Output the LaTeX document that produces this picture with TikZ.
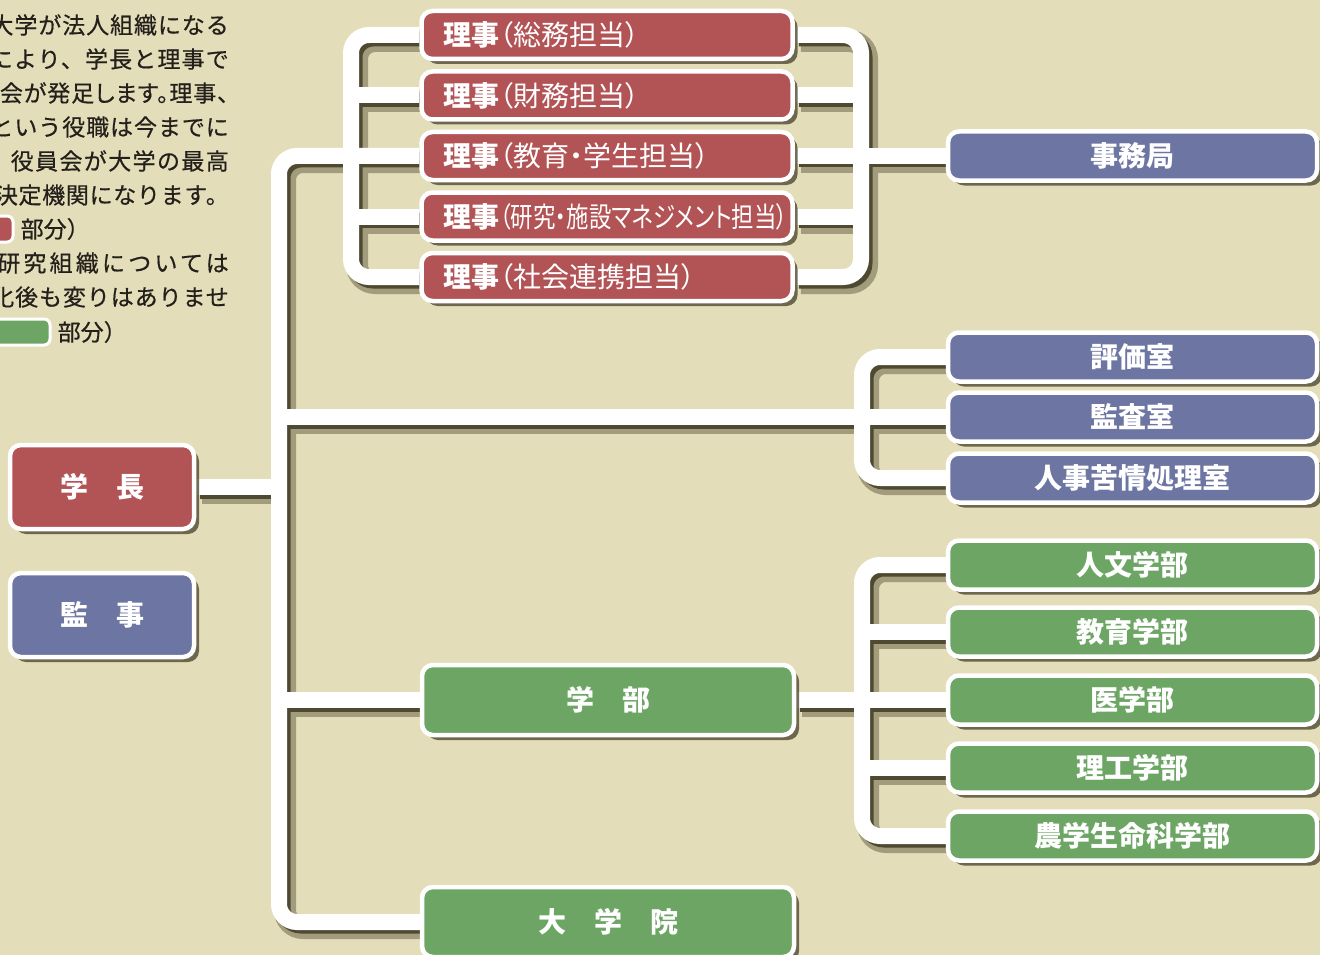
\documentclass[tikz,border=0pt]{standalone}
\usepackage{fontspec}
\newfontfamily\jp{Noto Sans CJK JP}
\newfontfamily\jpp{Noto Sans CJK JP}[RawFeature=+palt]
\newfontfamily\jpnote{Noto Sans CJK JP}[FakeBold=0.5]
\usetikzlibrary{positioning,shadows}

\definecolor{paper}{HTML}{E4DDBA}
\definecolor{rijired}{HTML}{B25356}
\definecolor{officeblue}{HTML}{6D75A2}
\definecolor{facultygreen}{HTML}{6DA664}
\definecolor{shadedark}{HTML}{4E4A32}
\definecolor{shadelight}{HTML}{A39C7C}
\definecolor{notetext}{HTML}{231F1A}

\pgfdeclarelayer{paperlayer}
\pgfdeclarelayer{linkshade}
\pgfdeclarelayer{links}
\pgfsetlayers{paperlayer,linkshade,links,main}

% all connectors, drawn once per pass
\newcommand\orglinks{%
  % spine
  \path[link] (riji3.west) -- (riji3.west -| spine) -- (daigakuin.west -| spine) -- (daigakuin.west);
  \path[link] (gakucho.east) -- (gakucho.east -| spine);
  \path[link] (gakubu.west -| spine) -- (gakubu.west);
  \path[link] (kansa.west -| spine) -- (kansa.west);
  % riji brackets
  \path[link] (riji1.west) -- (riji1.west -| lbrk) -- (riji5.west -| lbrk) -- (riji5.west);
  \path[link] (riji1.east) -- (riji1.east -| rbrk) -- (riji5.east -| rbrk) -- (riji5.east);
  \foreach \k in {2,4}
  {
    \path[link] (riji\k.west -| lbrk) -- (riji\k.west);
    \path[link] (riji\k.east) -- (riji\k.east -| rbrk);
  }
  \path[link] (riji3.east) -- (jimu.west);
  % offices
  \path[link] (hyoka.west) -- (hyoka.west -| obrk) -- (kujo.west -| obrk) -- (kujo.west);
  % faculties
  \path[link] (jinbun.west) -- (jinbun.west -| fbrk) -- (nogaku.west -| fbrk) -- (nogaku.west);
  \path[link] (gakubu.east) -- (igaku.west);
  \foreach \k in {kyoiku,riko}
  {
    \path[link] (\k.west -| fbrk) -- (\k.west);
  }
}

\begin{document}
\begin{tikzpicture}[
  x={(1pt,0pt)},
  y={(0pt,-1pt)},
  box/.style={
    draw=white,
    line width=4.5pt,
    rounded corners=11pt,
    text=white,
    inner sep=0pt,
    font=\jp\bfseries\fontsize{28}{28}\selectfont,
    drop shadow={shadow xshift=5pt, shadow yshift=-5pt, fill=shadedark, opacity=.8}
  },
  headbox/.style={box, minimum width=184pt, minimum height=84pt},
  rijibox/.style={
    box,
    fill=rijired,
    text width=327pt,
    align=left,
    inner xsep=22pt,
    minimum height=48pt,
    font=\jpp\mdseries\fontsize{28}{28}\selectfont
  },
  sidebox/.style={box, minimum width=369pt, minimum height=49pt},
  bigbox/.style={box, fill=facultygreen, minimum width=372pt, minimum height=70pt},
  note/.style={inner sep=0pt, text=notetext, font=\jpnote\fontsize{23}{23}\selectfont},
  swatch/.style={draw=white, line width=3pt, rounded corners=6pt, minimum height=26pt}
]

\useasboundingbox (0,0) rectangle (1320,955);
\begin{pgfonlayer}{paperlayer}
\fill[paper] (0,0) rectangle (1320,955);
\end{pgfonlayer}

% left note
\foreach \i/\ls/\t in {1/4/大学が法人組織になる,2/5/により、学長と理事で,3/4/{\addfontfeature{RawFeature=+palt}会が発足します。理事、},4/4/という役職は今までに,5/6/役員会が大学の最高,6/3/決定機関になります。,8/14/研究組織については,9/4/化後も変りはありませ}
{
  \node[note, anchor=east] (note\i) at (229,{25+34*(\i-1)}) {\addfontfeature{LetterSpace=\ls}\t};
}
\node[swatch, fill=rijired, minimum width=40pt] (swatchred) at (-7,229) {};
\node[note, right=6pt of swatchred] (keyred) {部分）};
\node[swatch, fill=facultygreen, minimum width=76pt] (swatchgreen) at (12,332) {};
\node[note, right=6pt of swatchgreen] (keygreen) {部分）};

% boxes
\node[headbox, fill=rijired] (gakucho) at (102,487) {学　長};
\node[headbox, fill=officeblue] (kanji) at (102,615) {監　事};

\foreach \k/\duty in {1/（総務担当）,2/（財務担当）,3/（教育・学生担当）,4/{\scalebox{.8}[1]{（研究・施設マネジメント担当）}},5/（社会連携担当）}
{
  \node[rijibox] (riji\k) at (607,{35+60.5*(\k-1)}) {\textbf{理事}\duty};
}

\foreach \name/\label/\yy in {jimu/事務局/156,hyoka/評価室/357,kansa/監査室/417,kujo/人事苦情処理室/478}
{
  \node[sidebox, fill=officeblue] (\name) at (1132.5,\yy) {\label};
}

\foreach \name/\label/\yy in {jinbun/人文学部/565,kyoiku/教育学部/632,igaku/医学部/700,riko/理工学部/768,nogaku/農学生命科学部/836}
{
  \node[sidebox, fill=facultygreen] (\name) at (1132.5,\yy) {\label};
}

\node[bigbox] (gakubu) at (608,700) {学　部};
\node[bigbox] (daigakuin) at (608,922) {大　学　院};

% bracket columns
\coordinate (spine) at (279,0);
\coordinate (lbrk) at (351,0);
\coordinate (rbrk) at (861,0);
\coordinate (obrk) at (862,0);
\coordinate (fbrk) at (862,0);

\begin{pgfonlayer}{linkshade}
\foreach \w/\s/\c in {22/6/shadelight,15/4/shadedark}
{
  \begin{scope}[
    transform canvas={shift={(\s pt,-\s pt)}},
    link/.style={draw=\c, line width=\w pt, rounded corners=18pt}
  ]
  \orglinks
  \end{scope}
}
\end{pgfonlayer}

\begin{pgfonlayer}{links}
\begin{scope}[link/.style={draw=white, line width=16pt, rounded corners=18pt}]
\orglinks
\end{scope}
\end{pgfonlayer}
\end{tikzpicture}
\end{document}
